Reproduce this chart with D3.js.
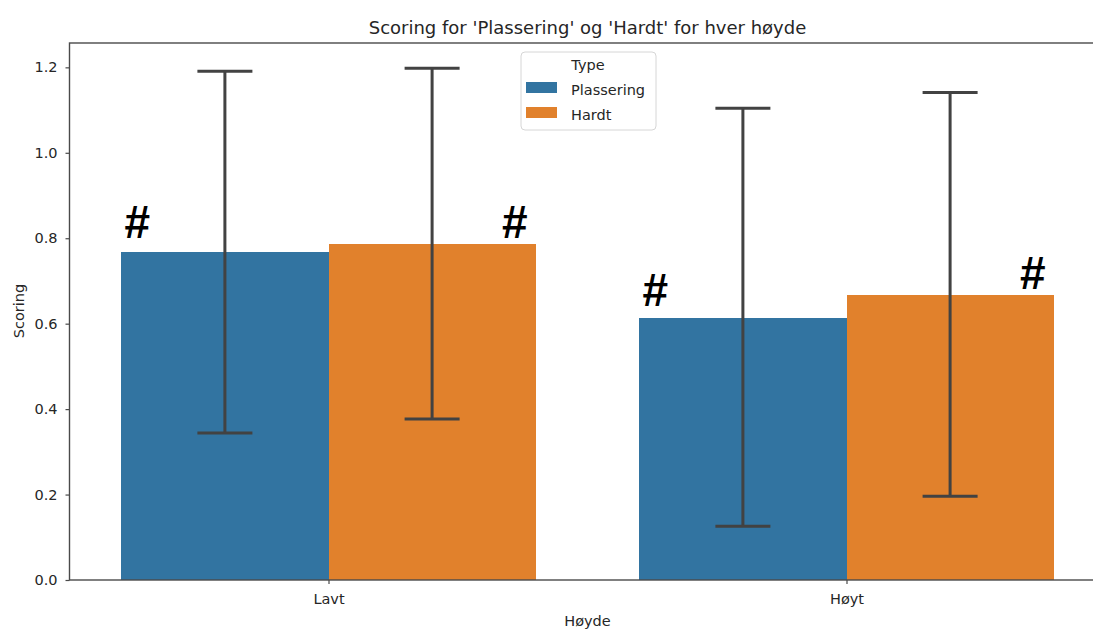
<!DOCTYPE html>
<html>
<head>
<meta charset="utf-8">
<script src="https://cdn.jsdelivr.net/npm/d3@7"></script>
<style>
  html, body { margin: 0; padding: 0; background: #fff; }
  svg { display: block; font-family: "DejaVu Sans", sans-serif; }
</style>
</head>
<body>
<svg id="chart" width="1093" height="630"></svg>
<script>
// Heights on the x axis and the two scoring types
const categories = ["Lavt", "Høyt"];
const seriesNames = ["Plassering", "Hardt"];

// Mean scoring per height, one array per type
const plasseringValues = [0.767, 0.613];
const hardtValues = [0.786, 0.667];

// Error bar extents (low, high) per height
const plasseringLow = [0.344, 0.126];
const plasseringHigh = [1.191, 1.104];
const hardtLow = [0.377, 0.196];
const hardtHigh = [1.198, 1.141];

// Significance markers: height, type, level of the marker's base
const markCategory = ["Lavt", "Lavt", "Høyt", "Høyt"];
const markSeries = ["Plassering", "Hardt", "Plassering", "Hardt"];
const markLevel = [0.800, 0.800, 0.641, 0.681];

const yTicks = [0.0, 0.2, 0.4, 0.6, 0.8, 1.0, 1.2];

const colors = { "Plassering": "#3274a1", "Hardt": "#e1812c" };
const textColor = "#262626";
const spineColor = "#4a4a4a";
const errColor = "#424242";
const fs = 14.5;

const svg = d3.select("#chart");
const margin = { left: 69.5, right: 1105.5, top: 43, bottom: 580 };

// Category axis spans -0.5..1.5 like a categorical plot
const xPos = d3.scaleLinear().domain([-0.5, categories.length - 0.5]).range([margin.left, margin.right]);
const x = d3.scaleBand().domain(categories).range([margin.left, margin.right]).paddingInner(0.2).paddingOuter(0.1);
const xSub = d3.scaleBand().domain(seriesNames).range([0, x.bandwidth()]);
const y = d3.scaleLinear().domain([0, 1.257]).range([margin.bottom, margin.top]);

const rows = [];
categories.forEach((c, i) => {
  rows.push({ cat: c, series: "Plassering", value: plasseringValues[i], low: plasseringLow[i], high: plasseringHigh[i] });
  rows.push({ cat: c, series: "Hardt", value: hardtValues[i], low: hardtLow[i], high: hardtHigh[i] });
});

// Bars
svg.append("g").attr("shape-rendering", "crispEdges").selectAll("rect").data(rows).join("rect")
  .attr("x", d => x(d.cat) + xSub(d.series))
  .attr("y", d => y(d.value))
  .attr("width", xSub.bandwidth())
  .attr("height", d => y(0) - y(d.value))
  .attr("fill", d => colors[d.series]);

// Error bars with caps
const capHalf = 27.5;
const eg = svg.append("g").attr("stroke", errColor).attr("stroke-width", 3).attr("fill", "none");
rows.forEach(d => {
  const cx = x(d.cat) + xSub(d.series) + xSub.bandwidth() / 2;
  eg.append("line").attr("x1", cx).attr("x2", cx).attr("y1", y(d.low)).attr("y2", y(d.high));
  eg.append("line").attr("x1", cx - capHalf).attr("x2", cx + capHalf).attr("y1", y(d.high)).attr("y2", y(d.high));
  eg.append("line").attr("x1", cx - capHalf).attr("x2", cx + capHalf).attr("y1", y(d.low)).attr("y2", y(d.low));
});

// '#' markers near the outer edge of each bar
markCategory.forEach((c, i) => {
  const s = markSeries[i];
  const left = x(c) + xSub(s);
  const cx = s === "Plassering" ? left + 16 : left + xSub.bandwidth() - 21;
  svg.append("text")
    .attr("x", cx).attr("y", y(markLevel[i]))
    .attr("text-anchor", "middle")
    .attr("font-family", "'Liberation Sans', Arial, sans-serif")
    .attr("font-weight", "bold")
    .attr("font-size", 46)
    .attr("fill", "#000")
    .text("#");
});

// Y axis
const yAxis = d3.axisLeft(y).tickValues(yTicks).tickFormat(d3.format(".1f")).tickSize(4).tickPadding(8);
const ya = svg.append("g").attr("transform", `translate(${margin.left},0)`).call(yAxis);
ya.select(".domain").remove();
ya.selectAll(".tick line").attr("stroke", spineColor).attr("stroke-width", 1.2);
ya.selectAll(".tick text").attr("fill", textColor).attr("font-size", fs).attr("font-family", "DejaVu Sans, sans-serif");

// X axis
const xAxis = d3.axisBottom(xPos).tickValues(d3.range(categories.length)).tickFormat(i => categories[i]).tickSize(4).tickPadding(10);
const xa = svg.append("g").attr("transform", `translate(0,${margin.bottom})`).call(xAxis);
xa.select(".domain").remove();
xa.selectAll(".tick line").attr("stroke", spineColor).attr("stroke-width", 1.2);
xa.selectAll(".tick text").attr("fill", textColor).attr("font-size", fs).attr("font-family", "DejaVu Sans, sans-serif");

// Frame
svg.append("rect")
  .attr("x", margin.left).attr("y", margin.top)
  .attr("width", margin.right - margin.left).attr("height", margin.bottom - margin.top)
  .attr("fill", "none").attr("stroke", spineColor).attr("stroke-width", 1.4);

// Title and axis labels
svg.append("text").attr("x", (margin.left + margin.right) / 2).attr("y", 34)
  .attr("text-anchor", "middle").attr("font-size", 18).attr("fill", textColor)
  .text("Scoring for 'Plassering' og 'Hardt' for hver høyde");
svg.append("text").attr("x", (margin.left + margin.right) / 2).attr("y", 626)
  .attr("text-anchor", "middle").attr("font-size", fs).attr("fill", textColor)
  .text("Høyde");
svg.append("text").attr("transform", "translate(24,311) rotate(-90)")
  .attr("text-anchor", "middle").attr("font-size", fs).attr("fill", textColor)
  .text("Scoring");

// Legend
const lg = svg.append("g").attr("transform", "translate(521,52)");
lg.append("rect").attr("width", 135).attr("height", 78).attr("rx", 4)
  .attr("fill", "#fff").attr("fill-opacity", 0.8).attr("stroke", "#d6d6d6").attr("stroke-width", 1);
lg.append("text").attr("x", 67).attr("y", 18).attr("text-anchor", "middle")
  .attr("font-size", fs).attr("fill", textColor).text("Type");
seriesNames.forEach((s, i) => {
  const gy = 30 + i * 25;
  lg.append("rect").attr("x", 5).attr("y", gy).attr("width", 31).attr("height", 11).attr("fill", colors[s]);
  lg.append("text").attr("x", 50).attr("y", gy + 13).attr("font-size", fs).attr("fill", textColor).text(s);
});
</script>
</body>
</html>
